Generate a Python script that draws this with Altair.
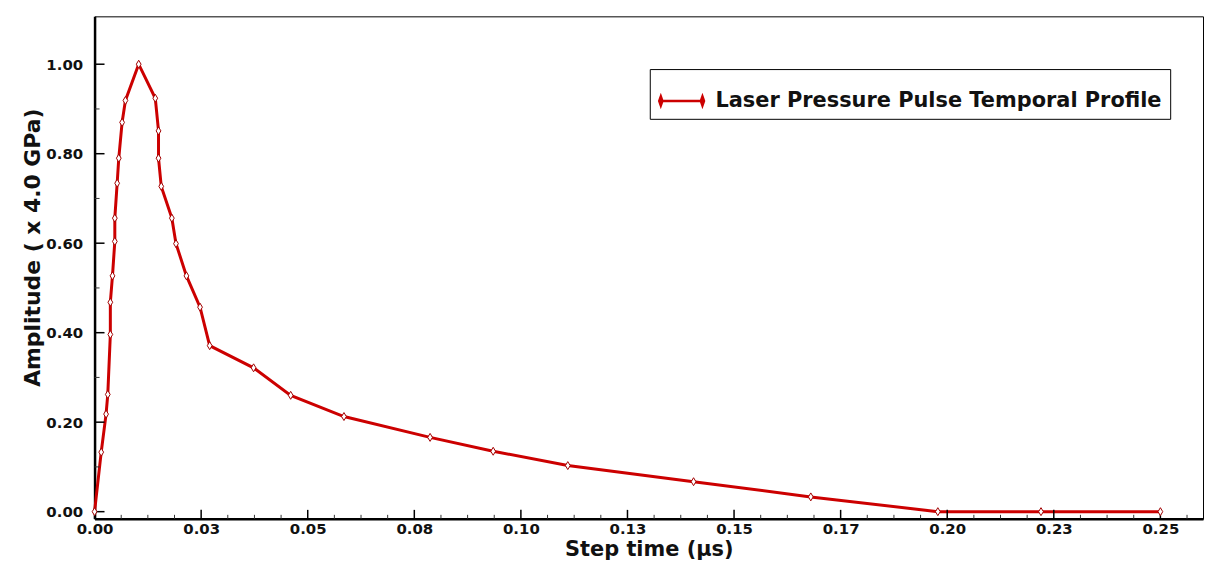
import altair as alt
import pandas as pd

# ---- data ----
time_us = [0.0, 0.00156, 0.0027, 0.0031, 0.0037, 0.0037, 0.0042, 0.00475, 0.00475,
           0.0053, 0.00568, 0.00646, 0.00724, 0.01035, 0.01424, 0.0150, 0.0150,
           0.01564, 0.01813, 0.0191, 0.02155, 0.02474, 0.027, 0.0373, 0.046,
           0.0585, 0.0787, 0.0935, 0.111, 0.1405, 0.168, 0.1978, 0.222, 0.25]
amplitude = [0.0, 0.133, 0.218, 0.262, 0.396, 0.468, 0.527, 0.604, 0.656,
             0.734, 0.790, 0.870, 0.919, 1.0, 0.924, 0.851, 0.790,
             0.727, 0.656, 0.599, 0.527, 0.457, 0.371, 0.3215, 0.26,
             0.2126, 0.166, 0.135, 0.103, 0.067, 0.033, 0.0, 0.0, 0.0]
series_name = "Laser Pressure Pulse Temporal Profile"

x_major = [0.0, 0.025, 0.05, 0.075, 0.1, 0.125, 0.15, 0.175, 0.2, 0.225, 0.25]
x_labels = ["0.00", "0.03", "0.05", "0.08", "0.10", "0.13", "0.15", "0.17", "0.20", "0.23", "0.25"]
x_minor = [round(i * 0.00625, 5) for i in range(0, 42) if i % 4 != 0]
y_major = [0.0, 0.2, 0.4, 0.6, 0.8, 1.0]
y_minor = [0.1, 0.3, 0.5, 0.7, 0.9]

RED = "#cc0000"
TXT = "#111111"
FONT = "DejaVu Sans"
W, H = 1114, 505
X_TITLE = "Step time (µs)"
Y_TITLE = "Amplitude ( x 4.0 GPa)"

df = pd.DataFrame({"time": time_us, "amp": amplitude,
                   "idx": list(range(len(time_us))), "series": series_name})

xs = alt.Scale(domain=[0, 0.26], nice=False, zero=False)
ys = alt.Scale(domain=[-0.016, 1.107], nice=False, zero=False)

label_js = "[" + ",".join("'" + s + "'" for s in x_labels) + "][round(datum.value/0.025)]"

x_axis = alt.Axis(values=x_major, labelExpr=label_js, ticks=False, grid=False,
                  domainColor="black", domainWidth=2.5, labelFont=FONT,
                  labelFontWeight="bold", labelFontSize=15, labelColor=TXT,
                  labelPadding=3, titleFont=FONT,
                  titleFontSize=21, titleFontWeight="bold", titleColor=TXT,
                  titlePadding=2, labelFlush=False)
y_axis = alt.Axis(values=y_major, format=".2f", ticks=False, grid=False,
                  domainColor="black", domainWidth=2.5, labelFont=FONT,
                  labelFontWeight="bold", labelFontSize=15, labelColor=TXT,
                  labelPadding=12, titleFont=FONT,
                  titleFontSize=22, titleFontWeight="bold", titleColor=TXT,
                  titleX=-50, titleY=232)


def xenc(field):
    return alt.X(field, type="quantitative", scale=xs, axis=x_axis, title=X_TITLE)


def yenc(field):
    return alt.Y(field, type="quantitative", scale=ys, axis=y_axis, title=Y_TITLE)


legend_symbol = ("M-1,0H1M-0.93,-0.2L-0.86,0L-0.93,0.2L-1,0Z"
                 "M0.93,-0.2L1,0L0.93,0.2L0.86,0Z")

line = alt.Chart(df).mark_line(strokeWidth=3).encode(
    x=xenc("time"),
    y=yenc("amp"),
    order="idx:Q",
    color=alt.Color("series:N", scale=alt.Scale(range=[RED]),
                    legend=alt.Legend(title=None, orient="none", legendX=558, legendY=53,
                                      strokeColor="black", fillColor="white", padding=8,
                                      symbolType=legend_symbol, symbolSize=2025,
                                      symbolStrokeWidth=2.5, symbolFillColor="white",
                                      symbolStrokeColor=RED, labelFont=FONT,
                                      labelFontWeight="bold", labelFontSize=21,
                                      labelColor=TXT, labelOffset=10, labelLimit=700)),
)

points = alt.Chart(df).mark_point(shape="M0,-1L0.6,0L0,1L-0.6,0Z", size=64, filled=True,
                                  fill="white", stroke="#a00000", strokeWidth=1,
                                  opacity=1).encode(x=xenc("time"), y=yenc("amp"))

xmaj = alt.Chart(pd.DataFrame({"time": x_major})).mark_rule(color="black", strokeWidth=1.5).encode(
    x=xenc("time"), y=alt.value(H), y2=alt.value(H - 9))
xmin = alt.Chart(pd.DataFrame({"time": x_minor})).mark_rule(color="#333", strokeWidth=1).encode(
    x=xenc("time"), y=alt.value(H), y2=alt.value(H - 4))
ymaj = alt.Chart(pd.DataFrame({"amp": y_major})).mark_rule(color="black", strokeWidth=1.5).encode(
    y=yenc("amp"), x=alt.value(0), x2=alt.value(10))
ymin = alt.Chart(pd.DataFrame({"amp": y_minor})).mark_rule(color="#333", strokeWidth=1).encode(
    y=yenc("amp"), x=alt.value(0), x2=alt.value(5))

chart = alt.layer(line, xmin, xmaj, ymin, ymaj, points).properties(
    width=W, height=H,
    background="white",
    autosize=alt.AutoSizeParams(type="none"),
    padding={"left": 87, "top": 7, "right": 2, "bottom": 40},
).configure_view(stroke="black", strokeWidth=1)

chart.save("out.html", embed_options={"renderer": "svg", "actions": False})
